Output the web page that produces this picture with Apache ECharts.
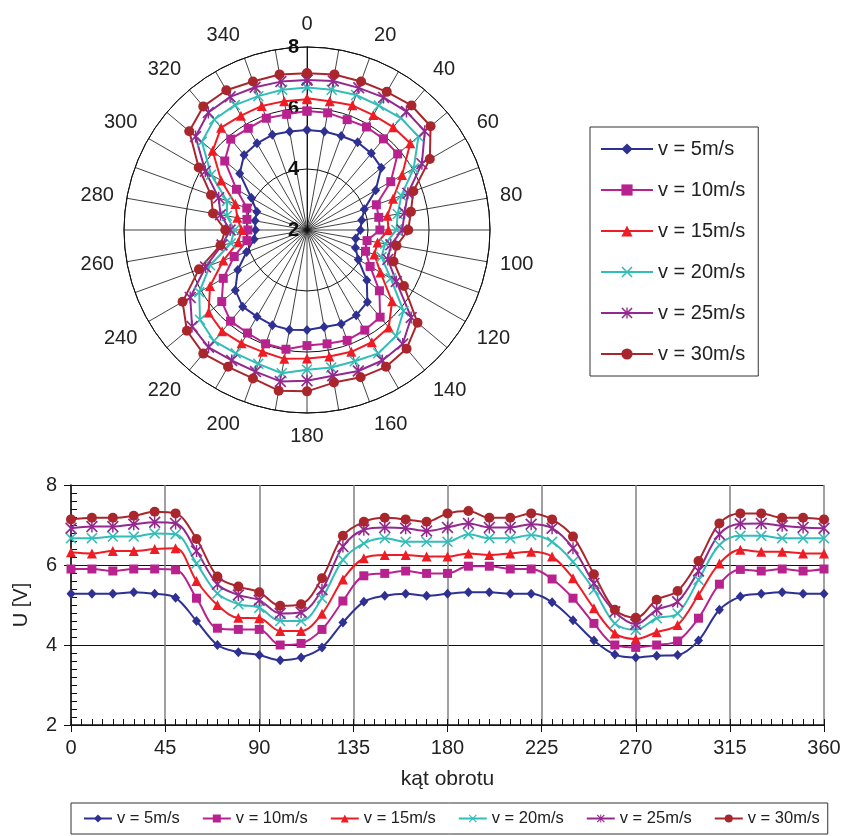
<!DOCTYPE html>
<html><head><meta charset="utf-8">
<script src="https://cdn.jsdelivr.net/npm/echarts@6/dist/echarts.min.js"></script>
<style>html,body{margin:0;padding:0;background:#fff}#c{width:845px;height:836px}</style>
</head><body><div id="c"></div>
<script>
// ---- data ----
const angles = [0,10,20,30,40,50,60,70,80,90,100,110,120,130,140,150,160,170,180,190,200,210,220,230,240,250,260,270,280,290,300,310,320,330,340,350,360];
const seriesNames = ['v = 5m/s','v = 10m/s','v = 15m/s','v = 20m/s','v = 25m/s','v = 30m/s'];
const v5  = [5.28,5.28,5.28,5.32,5.28,5.18,4.60,4.00,3.82,3.75,3.62,3.69,3.94,4.56,5.08,5.23,5.28,5.23,5.28,5.32,5.32,5.28,5.28,5.07,4.62,4.11,3.76,3.69,3.73,3.75,4.11,4.88,5.21,5.28,5.32,5.28,5.28];
const v10 = [5.90,5.90,5.85,5.90,5.90,5.88,5.17,4.42,4.39,4.39,4.00,4.04,4.39,5.10,5.73,5.79,5.85,5.79,5.79,5.97,5.97,5.90,5.90,5.65,5.17,4.54,4.00,3.94,4.00,4.10,4.67,5.52,5.89,5.85,5.90,5.85,5.90];
const v15 = [6.32,6.29,6.35,6.35,6.40,6.42,5.60,5.00,4.68,4.67,4.35,4.35,4.78,5.64,6.17,6.25,6.25,6.21,6.21,6.29,6.25,6.29,6.33,6.21,5.67,4.92,4.29,4.15,4.32,4.50,5.25,6.04,6.38,6.33,6.33,6.29,6.29];
const v20 = [6.67,6.67,6.71,6.71,6.79,6.77,6.04,5.29,5.02,4.93,4.60,4.60,5.17,6.13,6.54,6.67,6.58,6.58,6.58,6.77,6.67,6.67,6.75,6.58,6.08,5.38,4.54,4.38,4.67,4.79,5.63,6.50,6.73,6.73,6.67,6.67,6.67];
const v25 = [6.92,6.96,6.96,7.02,7.07,7.04,6.35,5.52,5.25,5.12,4.79,4.82,5.38,6.46,6.88,6.94,6.92,6.85,6.94,7.04,6.94,6.94,7.02,6.92,6.42,5.54,4.83,4.52,4.88,5.08,5.85,6.77,7.03,7.04,6.98,6.94,6.92];
const v30 = [7.14,7.18,7.18,7.23,7.33,7.29,6.65,5.71,5.46,5.32,4.98,5.02,5.67,6.73,7.08,7.18,7.14,7.08,7.29,7.35,7.18,7.18,7.29,7.14,6.71,5.77,4.88,4.68,5.13,5.35,6.10,7.04,7.29,7.29,7.18,7.18,7.14];
const xTickLabels = [0,45,90,135,180,225,270,315,360];
const yTickLabels = [2,4,6,8];
const polarAngleLabels = [0,20,40,60,80,100,120,140,160,180,200,220,240,260,280,300,320,340];
const polarRadiusLabels = [2,4,6,8];

// ---- styles ----
const allValues = [v5, v10, v15, v20, v25, v30];
const colors = ['#2E3192','#B8228F','#EE1D25','#33BDB8','#93298F','#A9262C'];
const XPATH = 'path://M0,1L1,0L5,4L9,0L10,1L6,5L10,9L9,10L5,6L1,10L0,9L4,5Z';
const STAR = 'path://M0,1L1,0L5,4L9,0L10,1L6,5L10,9L9,10L5,6L1,10L0,9L4,5Z M4.4,0L5.6,0L5.6,10L4.4,10Z';
const symbols = ['diamond','rect','triangle',XPATH,STAR,'circle'];
const symSizes = [[9,10],9,10,11,12,10];
const FONT = '"Liberation Sans", Arial, sans-serif';
const TXT = '#222';

const series = [];
allValues.forEach((vals, i) => {
  series.push({
    name: seriesNames[i], type: 'line', coordinateSystem: 'polar',
    data: angles.map((a, j) => [vals[j], a]),
    symbol: symbols[i], symbolSize: symSizes[i], smooth: false,
    lineStyle: {color: colors[i], width: 2},
    itemStyle: {color: colors[i], borderWidth: 0},
    z: 3
  });
  series.push({
    name: seriesNames[i], type: 'line', xAxisIndex: 0, yAxisIndex: 0,
    data: angles.map((a, j) => [a, vals[j]]),
    symbol: symbols[i], symbolSize: symSizes[i], smooth: 0.35,
    lineStyle: {color: colors[i], width: 2},
    itemStyle: {color: colors[i], borderWidth: 0},
    z: 3
  });
});

const option = {
  animation: false,
  backgroundColor: '#fff',
  textStyle: {fontFamily: FONT},
  polar: {center: [307, 230], radius: 183},
  angleAxis: {
    type: 'value', min: 0, max: 360, interval: 10, startAngle: 90, clockwise: true,
    axisLine: {show: true, lineStyle: {color: '#111', width: 1}},
    axisTick: {show: false},
    axisLabel: {margin: 13, fontSize: 20, color: TXT, fontFamily: FONT,
      formatter: v => polarAngleLabels.includes(v) ? String(v) : ''},
    splitLine: {show: true, lineStyle: {color: '#111', width: 0.8}}
  },
  radiusAxis: {
    type: 'value', min: 2, max: 8, interval: 2,
    axisLine: {show: true, lineStyle: {color: '#111', width: 1}},
    axisTick: {show: false},
    axisLabel: {fontSize: 20, fontWeight: 'bold', color: '#111', margin: 8, fontFamily: FONT,
      formatter: v => polarRadiusLabels.includes(v) ? String(v) : ''},
    splitLine: {show: true, lineStyle: {color: '#111', width: 1}}
  },
  grid: {left: 71, right: 21, top: 485, bottom: 111},
  xAxis: [{
    type: 'value', min: 0, max: 360, interval: 45, position: 'bottom',
    axisLine: {show: true, onZero: false, lineStyle: {color: '#111', width: 1.5}},
    axisTick: {show: true, inside: true, length: 6, lineStyle: {color: '#111'}},
    minorTick: {show: true, splitNumber: 9, length: 6, lineStyle: {color: '#111'}},
    axisLabel: {fontSize: 20, color: TXT, margin: 13, fontFamily: FONT,
      formatter: v => xTickLabels.includes(v) ? String(v) : ''},
    splitLine: {show: true, lineStyle: {color: '#808080', width: 1.5}},
    name: 'kąt obrotu', nameLocation: 'middle', nameGap: 44,
    nameTextStyle: {fontSize: 21, color: TXT, fontFamily: FONT}
  }, {
    type: 'value', min: 0, max: 360, interval: 45, position: 'bottom',
    axisLine: {show: false, onZero: false},
    axisTick: {show: true, inside: false, length: 7, lineStyle: {color: '#111'}},
    axisLabel: {show: false}, splitLine: {show: false}
  }],
  yAxis: [{
    type: 'value', min: 2, max: 8, interval: 2, position: 'left',
    axisLine: {show: true, onZero: false, lineStyle: {color: '#111', width: 1.5}},
    axisTick: {show: true, inside: true, length: 6, lineStyle: {color: '#111'}},
    minorTick: {show: true, splitNumber: 10, length: 6, lineStyle: {color: '#111'}},
    axisLabel: {fontSize: 20, color: TXT, margin: 14, fontFamily: FONT,
      formatter: v => yTickLabels.includes(v) ? String(v) : ''},
    splitLine: {show: true, lineStyle: {color: '#111', width: 1}},
    name: 'U [V]', nameLocation: 'middle', nameGap: 40, nameRotate: 90,
    nameTextStyle: {fontSize: 20, color: TXT, fontFamily: FONT}
  }, {
    type: 'value', min: 2, max: 8, interval: 2, position: 'left',
    axisLine: {show: false, onZero: false},
    axisTick: {show: true, inside: false, length: 7, lineStyle: {color: '#111'}},
    axisLabel: {show: false}, splitLine: {show: false}
  }],
  legend: [{
    orient: 'vertical', left: 590, top: 127,
    padding: [12, 13, 12, 10], itemWidth: 52, itemHeight: 14, itemGap: 21,
    borderColor: '#333', borderWidth: 1,
    textStyle: {fontSize: 20, color: TXT, fontFamily: FONT},
    data: seriesNames
  }, {
    orient: 'horizontal', left: 71, top: 803,
    padding: [7, 8, 7, 12], itemWidth: 28, itemHeight: 10, itemGap: 22,
    borderColor: '#333', borderWidth: 1,
    textStyle: {fontSize: 16.5, color: TXT, fontFamily: FONT},
    data: seriesNames
  }],
  series: series
};

const chart = echarts.init(document.getElementById('c'), null, {renderer: 'canvas'});
chart.setOption(option);
</script>
</body></html>
